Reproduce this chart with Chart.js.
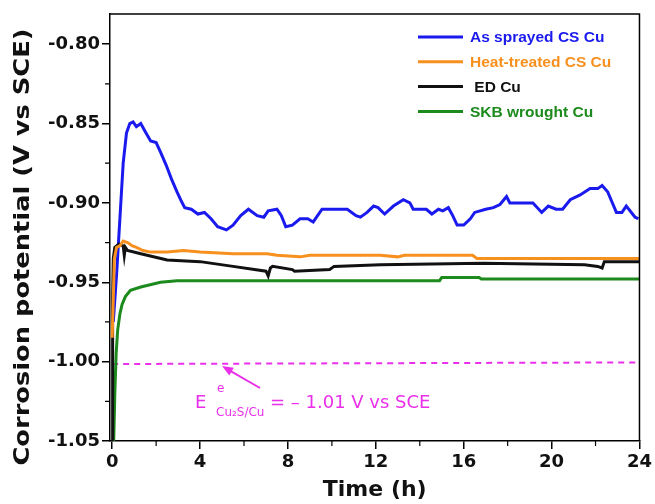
<!DOCTYPE html>
<html>
<head>
<meta charset="utf-8">
<script src="https://cdn.jsdelivr.net/npm/chart.js@4.4.1/dist/chart.umd.min.js"></script>
<style>
  html, body { margin: 0; padding: 0; background: #fff; }
  #wrap { width: 655px; height: 504px; }
</style>
</head>
<body>
<div id="wrap"><canvas id="ocpChart" width="655" height="504"></canvas></div>
<script>
// Open-circuit potential vs time, pairs of [time (h), potential (V vs SCE)]
const asSprayed = [
  [0.05, -0.975], [0.2, -0.945], [0.35, -0.91], [0.5, -0.875], [0.65, -0.856], [0.8, -0.850],
  [0.95, -0.849], [1.1, -0.852], [1.3, -0.850], [1.5, -0.855], [1.75, -0.861], [2.0, -0.862],
  [2.2, -0.868], [2.45, -0.876], [2.7, -0.885], [2.95, -0.893], [3.15, -0.899], [3.3, -0.903],
  [3.6, -0.904], [3.9, -0.907], [4.2, -0.906], [4.5, -0.910], [4.8, -0.915], [5.2, -0.917],
  [5.5, -0.914], [5.85, -0.908], [6.2, -0.904], [6.6, -0.908], [6.9, -0.909], [7.1, -0.905],
  [7.5, -0.904], [7.7, -0.908], [7.9, -0.915], [8.2, -0.914], [8.55, -0.910], [8.9, -0.910],
  [9.15, -0.912], [9.55, -0.904], [10.05, -0.904], [10.7, -0.904], [11.1, -0.908], [11.3, -0.909],
  [11.6, -0.906], [11.9, -0.902], [12.1, -0.903], [12.4, -0.907], [12.8, -0.902], [13.25, -0.898],
  [13.55, -0.900], [13.7, -0.904], [14.3, -0.904], [14.55, -0.907], [14.85, -0.904], [15.05, -0.905],
  [15.3, -0.903], [15.5, -0.908], [15.7, -0.914], [16.0, -0.914], [16.3, -0.910], [16.5, -0.906],
  [17.0, -0.904], [17.35, -0.903], [17.65, -0.901], [17.95, -0.896], [18.1, -0.900], [18.7, -0.900],
  [19.15, -0.900], [19.55, -0.906], [19.85, -0.902], [20.2, -0.904], [20.5, -0.904], [20.85, -0.898],
  [21.3, -0.895], [21.75, -0.891], [22.1, -0.891], [22.3, -0.889], [22.55, -0.893], [22.95, -0.906],
  [23.2, -0.906], [23.4, -0.902], [23.8, -0.909], [23.95, -0.910]
];
const heatTreated = [
  [0, -0.985], [0.05, -0.96], [0.1, -0.935], [0.2, -0.928], [0.35, -0.927], [0.5, -0.924],
  [0.7, -0.925], [0.9, -0.927], [1.1, -0.928], [1.4, -0.930], [1.75, -0.931], [2.5, -0.931],
  [3.25, -0.930], [4.0, -0.931], [5.5, -0.932], [7.05, -0.932], [7.5, -0.933], [8.55, -0.934],
  [9.0, -0.933], [12.2, -0.933], [13.0, -0.934], [13.3, -0.933], [16.4, -0.933], [16.6, -0.935],
  [24, -0.935]
];
const edCu = [
  [0, -1.05], [0.02, -0.96], [0.05, -0.935], [0.12, -0.928], [0.3, -0.926], [0.5, -0.927],
  [0.55, -0.933], [0.6, -0.928], [0.7, -0.930], [1.3, -0.932], [2.5, -0.936], [4.0, -0.937],
  [5.5, -0.940], [7.0, -0.943], [7.1, -0.946], [7.2, -0.941], [7.3, -0.940], [8.2, -0.942],
  [8.3, -0.943], [9.9, -0.942], [10.1, -0.940], [12.2, -0.939], [16.9, -0.938], [21.5, -0.939],
  [22.1, -0.940], [22.3, -0.941], [22.4, -0.937], [24, -0.937]
];
const skbWrought = [
  [0.07, -1.05], [0.12, -1.02], [0.18, -0.995], [0.25, -0.980], [0.35, -0.970], [0.45, -0.964],
  [0.6, -0.959], [0.83, -0.955], [1.3, -0.953], [2.2, -0.950], [2.95, -0.949], [14.9, -0.949],
  [15.0, -0.947], [16.7, -0.947], [16.8, -0.948], [24, -0.948]
];
const cu2sLine = [[0, -1.0015], [24, -1.0005]];

const xTicks = [0, 4, 8, 12, 16, 20, 24];
const xMinorTicks = [2, 6, 10, 14, 18, 22];
const yTicks = [-1.05, -1.00, -0.95, -0.90, -0.85, -0.80];
const yMinorTicks = [-1.025, -0.975, -0.925, -0.875, -0.825];

const legendItems = [
  { label: 'As sprayed CS Cu', color: '#1a1aee' },
  { label: 'Heat-treated CS Cu', color: '#f7901e' },
  { label: ' ED Cu', color: '#111111' },
  { label: 'SKB wrought Cu', color: '#1c8a1c' }
];

const MAGENTA = '#ea2fea';
const toPts = arr => arr.map(p => ({ x: p[0], y: p[1] }));

// frame, minor ticks, titles, legend and annotation
const extras = {
  id: 'extras',
  afterDraw(chart) {
    const { ctx, chartArea: a, scales } = chart;
    const xs = scales.x, ys = scales.y;
    ctx.save();

    // top and right side of the box
    ctx.strokeStyle = '#000';
    ctx.lineWidth = 1.5;
    ctx.beginPath();
    ctx.moveTo(a.left, a.top);
    ctx.lineTo(a.right, a.top);
    ctx.lineTo(a.right, a.bottom);
    ctx.stroke();

    // minor ticks
    ctx.lineWidth = 1.2;
    ctx.beginPath();
    xMinorTicks.forEach(v => {
      const px = xs.getPixelForValue(v);
      ctx.moveTo(px, a.bottom);
      ctx.lineTo(px, a.bottom + 5);
    });
    yMinorTicks.forEach(v => {
      const py = ys.getPixelForValue(v);
      ctx.moveTo(a.left, py);
      ctx.lineTo(a.left - 5, py);
    });
    ctx.stroke();

    // axis titles
    ctx.fillStyle = '#111';
    ctx.textAlign = 'center';
    ctx.textBaseline = 'middle';
    ctx.font = 'bold 22px "DejaVu Sans"';
    ctx.fillText('Time (h)', (a.left + a.right) / 2, 490);

    const yTitle = 'Corrosion potential (V vs SCE)';
    ctx.font = 'bold 21px "DejaVu Sans"';
    const w = ctx.measureText(yTitle).width;
    ctx.save();
    ctx.translate(24, 247);
    ctx.rotate(-Math.PI / 2);
    ctx.scale(437 / w, 1);
    ctx.fillText(yTitle, 0, 0);
    ctx.restore();

    // legend
    ctx.font = 'bold 15.5px "Liberation Sans"';
    ctx.textAlign = 'left';
    ctx.lineWidth = 3;
    legendItems.forEach((it, i) => {
      const y = 37 + i * 24.8;
      ctx.strokeStyle = it.color;
      ctx.beginPath();
      ctx.moveTo(418, y);
      ctx.lineTo(463, y);
      ctx.stroke();
      ctx.fillStyle = it.color;
      ctx.fillText(it.label, 470, y + 1);
    });

    // Cu2S/Cu equilibrium annotation
    const tipX = xs.getPixelForValue(5.0);
    const tipY = ys.getPixelForValue(-1.0015) + 2;
    const tailX = 260, tailY = 388;
    const ang = Math.atan2(tipY - tailY, tipX - tailX);
    ctx.strokeStyle = MAGENTA;
    ctx.fillStyle = MAGENTA;
    ctx.lineWidth = 2;
    ctx.beginPath();
    ctx.moveTo(tailX, tailY);
    ctx.lineTo(tipX - 8 * Math.cos(ang), tipY - 8 * Math.sin(ang));
    ctx.stroke();
    ctx.beginPath();
    ctx.moveTo(tipX, tipY);
    ctx.lineTo(tipX - 11 * Math.cos(ang) + 4.5 * Math.sin(ang), tipY - 11 * Math.sin(ang) - 4.5 * Math.cos(ang));
    ctx.lineTo(tipX - 11 * Math.cos(ang) - 4.5 * Math.sin(ang), tipY - 11 * Math.sin(ang) + 4.5 * Math.cos(ang));
    ctx.closePath();
    ctx.fill();

    ctx.textBaseline = 'alphabetic';
    ctx.font = '18px "DejaVu Sans"';
    ctx.fillText('E', 195, 408);
    ctx.font = '12px "DejaVu Sans"';
    ctx.fillText('e', 217, 392);
    ctx.fillText('Cu\u2082S/Cu', 216, 416);
    ctx.font = '18px "DejaVu Sans"';
    ctx.fillText('= \u2013 1.01 V vs SCE', 270, 408);

    ctx.restore();
  }
};

const axisCommon = {
  type: 'linear',
  grid: { display: true, drawOnChartArea: false, drawTicks: true, tickLength: 8, color: '#000', lineWidth: 1.5 },
  border: { display: true, color: '#000', width: 1.5 },
  ticks: { color: '#111', font: { family: 'DejaVu Sans', weight: 'bold', size: 18 } }
};

new Chart(document.getElementById('ocpChart'), {
  type: 'line',
  data: {
    datasets: [
      { label: 'Heat-treated CS Cu', data: toPts(heatTreated), borderColor: '#f7901e', borderWidth: 3 },
      { label: 'ED Cu', data: toPts(edCu), borderColor: '#111111', borderWidth: 3 },
      { label: 'SKB wrought Cu', data: toPts(skbWrought), borderColor: '#1c8a1c', borderWidth: 3 },
      { label: 'As sprayed CS Cu', data: toPts(asSprayed), borderColor: '#1a1aee', borderWidth: 3 },
      { label: 'Cu2S/Cu', data: toPts(cu2sLine), borderColor: MAGENTA, borderWidth: 2, borderDash: [6, 5] }
    ]
  },
  options: {
    responsive: false,
    animation: false,
    events: [],
    elements: { point: { radius: 0 }, line: { tension: 0, fill: false } },
    layout: { padding: { left: 0, right: 15, top: 14, bottom: 0 } },
    plugins: { legend: { display: false }, tooltip: { enabled: false } },
    scales: {
      x: {
        ...axisCommon,
        min: -0.1,
        max: 24,
        afterFit(scale) { scale.height = 63; },
        afterBuildTicks(scale) { scale.ticks = xTicks.map(v => ({ value: v })); },
        ticks: { ...axisCommon.ticks, padding: 3, maxRotation: 0, callback: v => String(v) }
      },
      y: {
        ...axisCommon,
        min: -1.05,
        max: -0.781,
        afterFit(scale) { scale.width = 110; },
        afterBuildTicks(scale) { scale.ticks = yTicks.map(v => ({ value: v })); },
        ticks: { ...axisCommon.ticks, padding: 2, callback: v => v.toFixed(2) }
      }
    }
  },
  plugins: [extras]
});
</script>
</body>
</html>
